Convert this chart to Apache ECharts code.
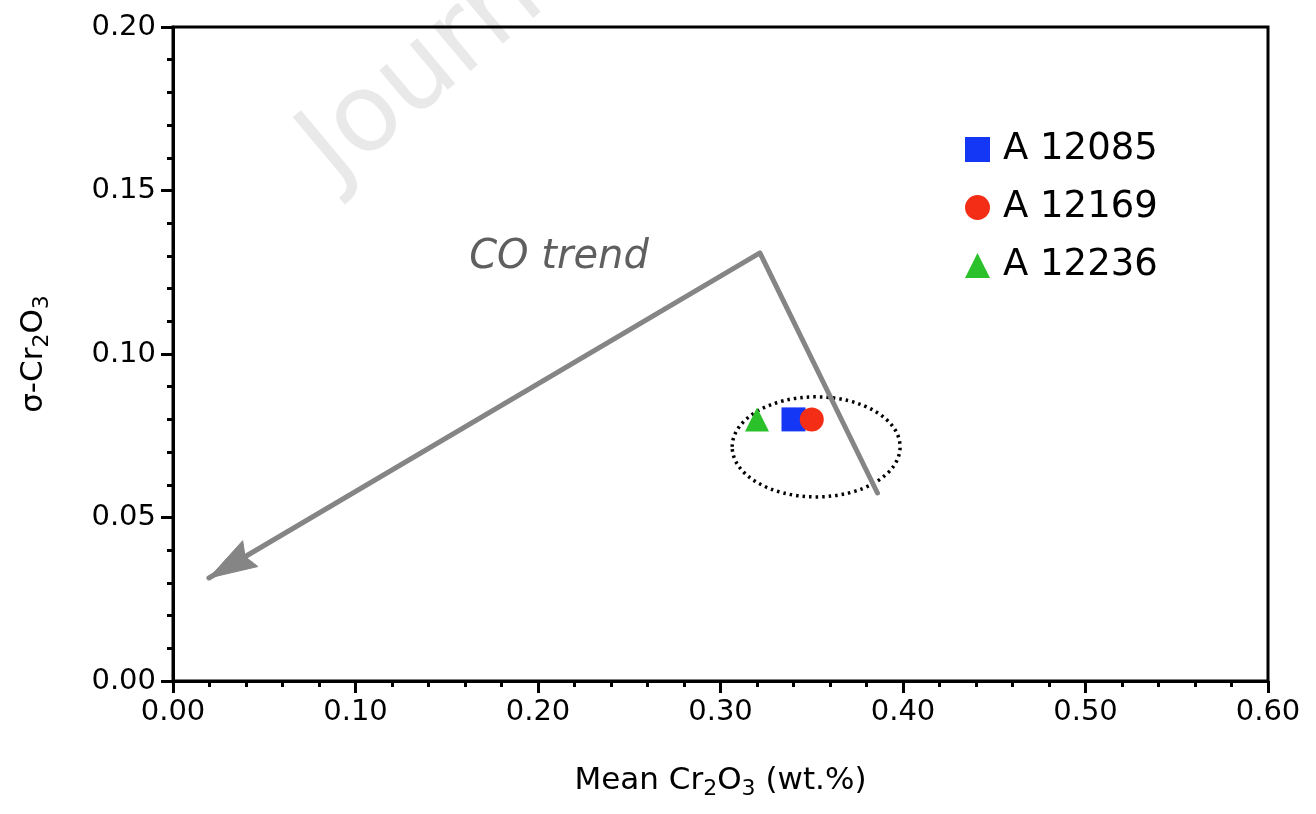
<!DOCTYPE html>
<html>
<head>
<meta charset="utf-8">
<script src="https://cdn.jsdelivr.net/npm/echarts@6/dist/echarts.min.js"></script>
<style>
  html, body { margin: 0; padding: 0; background: #fff; }
  #chart { width: 1316px; height: 814px; }
</style>
</head>
<body>
<div id="chart"></div>
<script>
// data
var sampleNames = ['A 12085', 'A 12169', 'A 12236'];
var sampleSymbols = ['rect', 'circle', 'triangle'];
var sampleColors = ['#1437f5', '#f42d16', '#2ac12a'];
var meanCr2O3 = [0.34, 0.35, 0.32];
var sigmaCr2O3 = [0.08, 0.08, 0.08];

// CO trend: start, bend, arrow tip
var trendX = [0.386, 0.3216, 0.0197];
var trendY = [0.0575, 0.1309, 0.0315];
var trendLabelPos = [0.2115, 0.1294];

// dotted ellipse around the samples: centre and half-axes in data units
var ellipseCenter = [0.3524, 0.0716];
var ellipseHalf = [0.046, 0.0153];

var xTicks = { min: 0, max: 0.6, interval: 0.1 };
var yTicks = { min: 0, max: 0.2, interval: 0.05 };

var font = 'DejaVu Sans';
var trendColor = '#858585';

var scatterSeries = sampleNames.map(function (name, i) {
    return {
        name: name,
        type: 'scatter',
        symbol: sampleSymbols[i],
        symbolSize: 24,
        itemStyle: { color: sampleColors[i], opacity: 1 },
        z: 5 + i,
        data: [[meanCr2O3[i], sigmaCr2O3[i]]]
    };
});

var trendCoords = trendX.map(function (x, i) { return [x, trendY[i]]; });

var nameStyle = {
    fontFamily: font, fontSize: 31, color: '#000',
    rich: { sub: { fontFamily: font, fontSize: 22, color: '#000', padding: [17, 0, 0, 0] } }
};

var option = {
    backgroundColor: '#fff',
    animation: false,
    grid: {
        left: 173, right: 48, top: 27, bottom: 133,
        show: true, borderColor: '#000', borderWidth: 3
    },
    legend: {
        orient: 'vertical',
        left: 960, top: 126,
        itemWidth: 25, itemHeight: 25,
        itemGap: 21,
        textStyle: { fontFamily: font, fontSize: 37, color: '#000', lineHeight: 36, padding: [0, 0, 0, 8] },
        data: sampleNames
    },
    xAxis: {
        type: 'value',
        min: xTicks.min, max: xTicks.max, interval: xTicks.interval,
        name: 'Mean Cr{sub|2}O{sub|3} (wt.%)',
        nameLocation: 'middle',
        nameGap: 80,
        nameTextStyle: nameStyle,
        axisLine: { lineStyle: { color: '#000', width: 3 } },
        axisTick: { length: 12, lineStyle: { color: '#000', width: 3 } },
        minorTick: { show: true, splitNumber: 5, length: 6, lineStyle: { color: '#000', width: 3 } },
        axisLabel: {
            margin: 17, fontFamily: font, fontSize: 29, color: '#000',
            formatter: function (v) { return v.toFixed(2); }
        },
        splitLine: { show: false }
    },
    yAxis: {
        type: 'value',
        min: yTicks.min, max: yTicks.max, interval: yTicks.interval,
        name: 'σ-Cr{sub|2}O{sub|3}',
        nameLocation: 'middle',
        nameGap: 120,
        nameTextStyle: nameStyle,
        axisLine: { lineStyle: { color: '#000', width: 3 } },
        axisTick: { length: 12, lineStyle: { color: '#000', width: 3 } },
        minorTick: { show: true, splitNumber: 5, length: 6, lineStyle: { color: '#000', width: 3 } },
        axisLabel: {
            margin: 17, fontFamily: font, fontSize: 29, color: '#000',
            formatter: function (v) { return v.toFixed(2); }
        },
        splitLine: { show: false }
    },
    series: scatterSeries.concat([
        {
            type: 'line',
            data: trendCoords,
            showSymbol: false,
            symbol: 'none',
            lineStyle: { color: trendColor, width: 5, join: 'round', cap: 'round' },
            z: 4,
            silent: true
        }
    ])
};

var myChart = echarts.init(document.getElementById('chart'));
myChart.setOption(option);

// annotations positioned through the axes
var c = myChart.convertToPixel({ gridIndex: 0 }, ellipseCenter);
var e = myChart.convertToPixel({ gridIndex: 0 }, [ellipseCenter[0] + ellipseHalf[0], ellipseCenter[1] + ellipseHalf[1]]);
var t = myChart.convertToPixel({ gridIndex: 0 }, trendLabelPos);

// arrow head at the last trend point, aligned with the last segment
var tip = myChart.convertToPixel({ gridIndex: 0 }, trendCoords[2]);
var prev = myChart.convertToPixel({ gridIndex: 0 }, trendCoords[1]);
var dx = tip[0] - prev[0], dy = tip[1] - prev[1];
var len = Math.sqrt(dx * dx + dy * dy);
var ux = dx / len, uy = dy / len;      // along the line
var px = -uy, py = ux;                  // perpendicular
var headLen = 48, headHalf = 15, notch = 42;
var headPoints = [
    [tip[0], tip[1]],
    [tip[0] - ux * headLen + px * headHalf, tip[1] - uy * headLen + py * headHalf],
    [tip[0] - ux * notch, tip[1] - uy * notch],
    [tip[0] - ux * headLen - px * headHalf, tip[1] - uy * headLen - py * headHalf]
];

myChart.setOption({
    graphic: [
        {
            type: 'text',
            x: 352, y: 204,
            rotation: 40 * Math.PI / 180,
            z: -10,
            silent: true,
            style: {
                text: 'Journal Pre-proof',
                font: '108px ' + font,
                fill: '#e9e9e9',
                align: 'left',
                verticalAlign: 'bottom'
            }
        },
        {
            type: 'ellipse',
            z: 3,
            silent: true,
            shape: { cx: c[0], cy: c[1], rx: e[0] - c[0], ry: c[1] - e[1] },
            style: { fill: 'none', stroke: '#000', lineWidth: 3.5, lineDash: [2.5, 4] }
        },
        {
            type: 'polygon',
            z: 10,
            silent: true,
            shape: { points: headPoints },
            style: { fill: trendColor, stroke: trendColor, lineWidth: 1, lineJoin: 'round' }
        },
        {
            type: 'text',
            x: t[0], y: t[1],
            z: 3,
            silent: true,
            style: {
                text: 'CO trend',
                font: 'italic 40px ' + font,
                fill: '#5f5f5f',
                align: 'center',
                verticalAlign: 'middle'
            }
        }
    ]
});
</script>
</body>
</html>
